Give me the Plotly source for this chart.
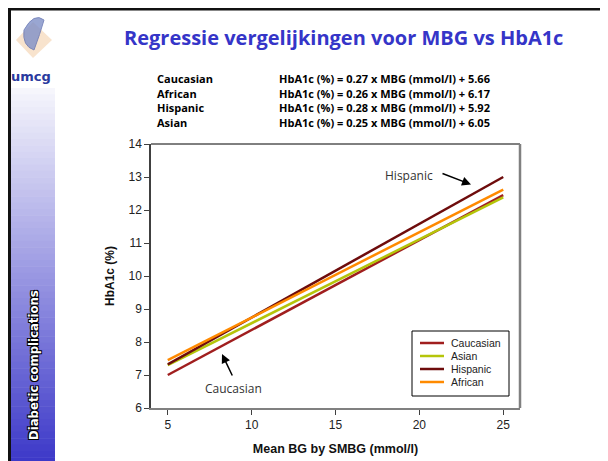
import plotly.graph_objects as go

# ---- data ----
x_mbg = [5, 25]
series_names = ["Caucasian", "Asian", "Hispanic", "African"]
caucasian = [7.0, 12.45]
asian = [7.3, 12.38]
hispanic = [7.32, 13.0]
african = [7.45, 12.62]
series_values = [caucasian, asian, hispanic, african]
series_colors = ["#A01E1E", "#B5C50A", "#6E0C0C", "#FF8A00"]

eq_labels = ["Caucasian", "African", "Hispanic", "Asian"]
eq_texts = ["HbA1c (%) = 0.27 x MBG (mmol/l) + 5.66",
            "HbA1c (%) = 0.26 x MBG (mmol/l) + 6.17",
            "HbA1c (%) = 0.28 x MBG (mmol/l) + 5.92",
            "HbA1c (%) = 0.25 x MBG (mmol/l) + 6.05"]

OFF = 8  # page body margin
W, H = 608 - OFF, 461 - OFF
L, R, T, B = 151 - OFF, 520 - OFF, 144 - OFF, 408 - OFF


def px(x):
    return (x - OFF - L) / (R - L)


def py(y):
    return (B - (y - OFF)) / (B - T)


fig = go.Figure()
for name, vals, col in zip(series_names, series_values, series_colors):
    fig.add_trace(go.Scatter(x=x_mbg, y=vals, mode="lines", name=name,
                             line=dict(color=col, width=2.5), showlegend=False))

shapes = []
# sidebar gradient
top_y, bot_y = 88, 470
n = 60
c0 = (246, 246, 252)
c1 = (58, 54, 200)
for i in range(n):
    t = i / (n - 1)
    c = tuple(int(c0[k] + (c1[k] - c0[k]) * t) for k in range(3))
    y0 = top_y + (bot_y - top_y) * i / n
    y1 = top_y + (bot_y - top_y) * (i + 1) / n + 0.5
    shapes.append(dict(type="rect", xref="paper", yref="paper",
                       x0=px(10), x1=px(55), y0=py(y0), y1=py(y1),
                       fillcolor="rgb(%d,%d,%d)" % c, line=dict(width=0), layer="below"))
# logo approximation
shapes.append(dict(type="path", xref="paper", yref="paper",
                   path="M %f %f L %f %f L %f %f L %f %f Z" % (px(33), py(22), px(52), py(40), px(33), py(58), px(16), py(40)),
                   fillcolor="#F6DCC0", line=dict(width=0), opacity=0.8))
shapes.append(dict(type="path", xref="paper", yref="paper",
                   path="M %f %f Q %f %f %f %f Q %f %f %f %f Q %f %f %f %f Z" % (
                       px(24), py(30), px(34), py(12), px(44), py(20),
                       px(40), py(34), px(34), py(50),
                       px(22), py(46), px(24), py(30)),
                   fillcolor="#8090C8", line=dict(color="#6070B0", width=1), opacity=0.8))
# slide borders
shapes.append(dict(type="line", xref="paper", yref="paper", x0=px(8), x1=px(620), y0=py(9), y1=py(9),
                   line=dict(color="#111111", width=3)))
shapes.append(dict(type="line", xref="paper", yref="paper", x0=px(9.5), x1=px(9.5), y0=py(8), y1=py(470),
                   line=dict(color="#111111", width=3)))
# plot frame top and right
shapes.append(dict(type="line", xref="paper", yref="paper", x0=0, x1=1, y0=1, y1=1,
                   line=dict(color="#000000", width=1)))
shapes.append(dict(type="line", xref="paper", yref="paper", x0=1, x1=1, y0=0, y1=1,
                   line=dict(color="#808080", width=2.5)))

ann = []
# custom compact legend
shapes.append(dict(type="rect", xref="paper", yref="paper", x0=px(412), x1=px(509), y0=py(331), y1=py(396),
                   fillcolor="white", line=dict(color="#000000", width=1)))
leg_y = [343, 356, 369, 382]
for name, col, yy in zip(series_names, series_colors, leg_y):
    shapes.append(dict(type="line", xref="paper", yref="paper", x0=px(420), x1=px(444), y0=py(yy), y1=py(yy),
                       line=dict(color=col, width=2.5)))
    ann.append(dict(text=name, xref="paper", yref="paper", x=px(449), y=py(yy),
                    showarrow=False, xanchor="left", yanchor="middle",
                    font=dict(family="Arial", size=10.5, color="#222222")))

ann.append(dict(text="<b>Regressie vergelijkingen voor MBG vs HbA1c</b>", xref="paper", yref="paper",
                x=px(343), y=py(37), showarrow=False, xanchor="center", yanchor="middle",
                font=dict(family="Open Sans", size=20, color="#3535C8", weight=800)))
rows_y = [78, 93, 108, 123]
for lab, eq, yy in zip(eq_labels, eq_texts, rows_y):
    ann.append(dict(text="<b>%s</b>" % lab, xref="paper", yref="paper", x=px(155), y=py(yy),
                    showarrow=False, xanchor="left", yanchor="middle",
                    font=dict(family="Open Sans", size=11, color="#000000")))
    ann.append(dict(text="<b>%s</b>" % eq, xref="paper", yref="paper", x=px(277), y=py(yy),
                    showarrow=False, xanchor="left", yanchor="middle",
                    font=dict(family="Open Sans", size=11, color="#000000")))
ann.append(dict(text="<b>umcg</b>", xref="paper", yref="paper", x=px(31), y=py(77),
                showarrow=False, xanchor="center", yanchor="middle",
                font=dict(family="DejaVu Sans", size=13, color="#2A3A9E")))
ann.append(dict(text="<b>Diabetic complications</b>", xref="paper", yref="paper", x=px(33), y=py(365),
                showarrow=False, xanchor="center", yanchor="middle", textangle=-90,
                font=dict(family="DejaVu Sans Condensed", size=13, color="#FFFFFF",
                          shadow="1px 1px 0 #000, -1px -1px 0 #000, 1px -1px 0 #000, -1px 1px 0 #000")))
# callouts
ann.append(dict(text="Hispanic", xref="paper", yref="paper", x=px(409), y=py(175),
                showarrow=False, xanchor="center", yanchor="middle",
                font=dict(family="Open Sans", size=12, color="#333333")))
ann.append(dict(text="", xref="paper", yref="paper", x=px(471), y=py(184.5), ax=-30, ay=-11.5,
                axref="pixel", ayref="pixel", showarrow=True, arrowhead=2, arrowsize=1.2,
                arrowwidth=1.5, arrowcolor="#000000"))
ann.append(dict(text="Caucasian", xref="paper", yref="paper", x=px(233), y=py(388),
                showarrow=False, xanchor="center", yanchor="middle",
                font=dict(family="Open Sans", size=12, color="#333333")))
ann.append(dict(text="", xref="paper", yref="paper", x=px(222), y=py(354), ax=11, ay=23,
                axref="pixel", ayref="pixel", showarrow=True, arrowhead=2, arrowsize=1.2,
                arrowwidth=1.5, arrowcolor="#000000"))

fig.update_layout(
    width=W, height=H,
    margin=dict(l=L, r=W - R, t=T, b=H - B),
    paper_bgcolor="white", plot_bgcolor="white",
    shapes=shapes, annotations=ann,
    showlegend=False,
    xaxis=dict(range=[4, 26], tickvals=[5, 10, 15, 20, 25], showgrid=False, zeroline=False,
               automargin=False,
               showline=True, linecolor="#808080", linewidth=2,
               ticks="outside", ticklen=5, tickcolor="#404040",
               tickfont=dict(family="Arial", size=12, color="#222222"),
               title=dict(text="<b>Mean BG by SMBG (mmol/l)</b>", standoff=13,
                          font=dict(family="Arial", size=12.5, color="#111111"))),
    yaxis=dict(range=[6, 14], dtick=1, showgrid=False, zeroline=False,
               automargin=False,
               showline=True, linecolor="#404040", linewidth=1.5,
               ticks="outside", ticklen=5, tickcolor="#404040",
               tickfont=dict(family="Arial", size=12, color="#222222"),
               title=dict(text="<b>HbA1c (%)</b>", standoff=11,
                          font=dict(family="Arial", size=12, color="#111111"))),
)

fig.write_html("out.html")
